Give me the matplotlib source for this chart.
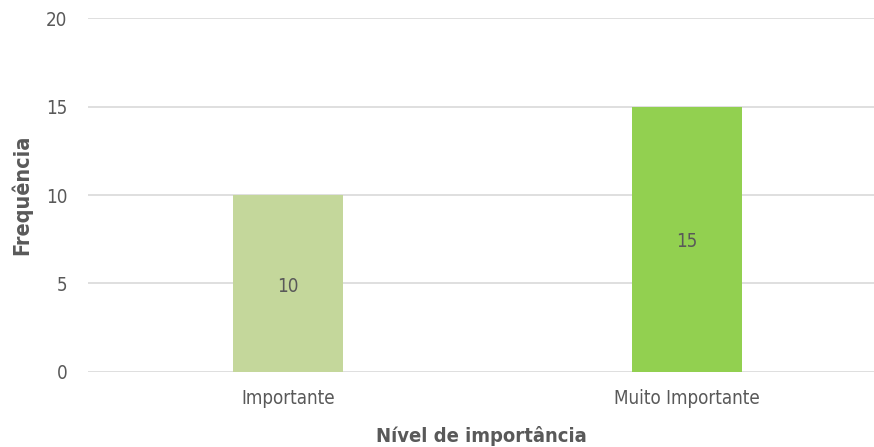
import matplotlib.pyplot as plt

categorias = ['Importante', 'Muito Importante']
frequencias = [10, 15]
cores = ['#C4D79B', '#92D050']

plt.rcParams['font.family'] = ['DejaVu Sans']
plt.rcParams['font.stretch'] = 'condensed'

fig = plt.figure(figsize=(8.74, 4.47), dpi=100)
ax = fig.add_axes([0.1007, 0.1678, 0.8993, 0.7919])

x = list(range(len(categorias)))
bars = ax.bar(x, frequencias, width=0.275, color=cores, zorder=2)
for b, v in zip(bars, frequencias):
    ax.text(b.get_x() + b.get_width() / 2, v / 2 - 0.15, str(v), ha='center', va='center',
            fontsize=13.5, color='#595959')

ax.set_xlim(-0.5, 1.4675)
ax.set_ylim(0, 20)
ax.set_yticks([0, 5, 10, 15, 20])
ax.set_xticks(x)
ax.set_xticklabels(categorias)
ax.yaxis.grid(True, color='#D9D9D9', linewidth=1.2, zorder=0)
ax.set_axisbelow(True)
for s in ax.spines.values():
    s.set_visible(False)
ax.tick_params(axis='both', length=0, labelsize=13.5, labelcolor='#595959')
ax.tick_params(axis='y', pad=15)
ax.tick_params(axis='x', pad=12)

ax.set_xlabel('Nível de importância', fontsize=14.5, fontweight='bold', color='#595959', labelpad=13)
ax.set_ylabel('Frequência', fontsize=15.5, fontweight='bold', color='#595959', labelpad=10)

fig.savefig('out.png', dpi=100)
